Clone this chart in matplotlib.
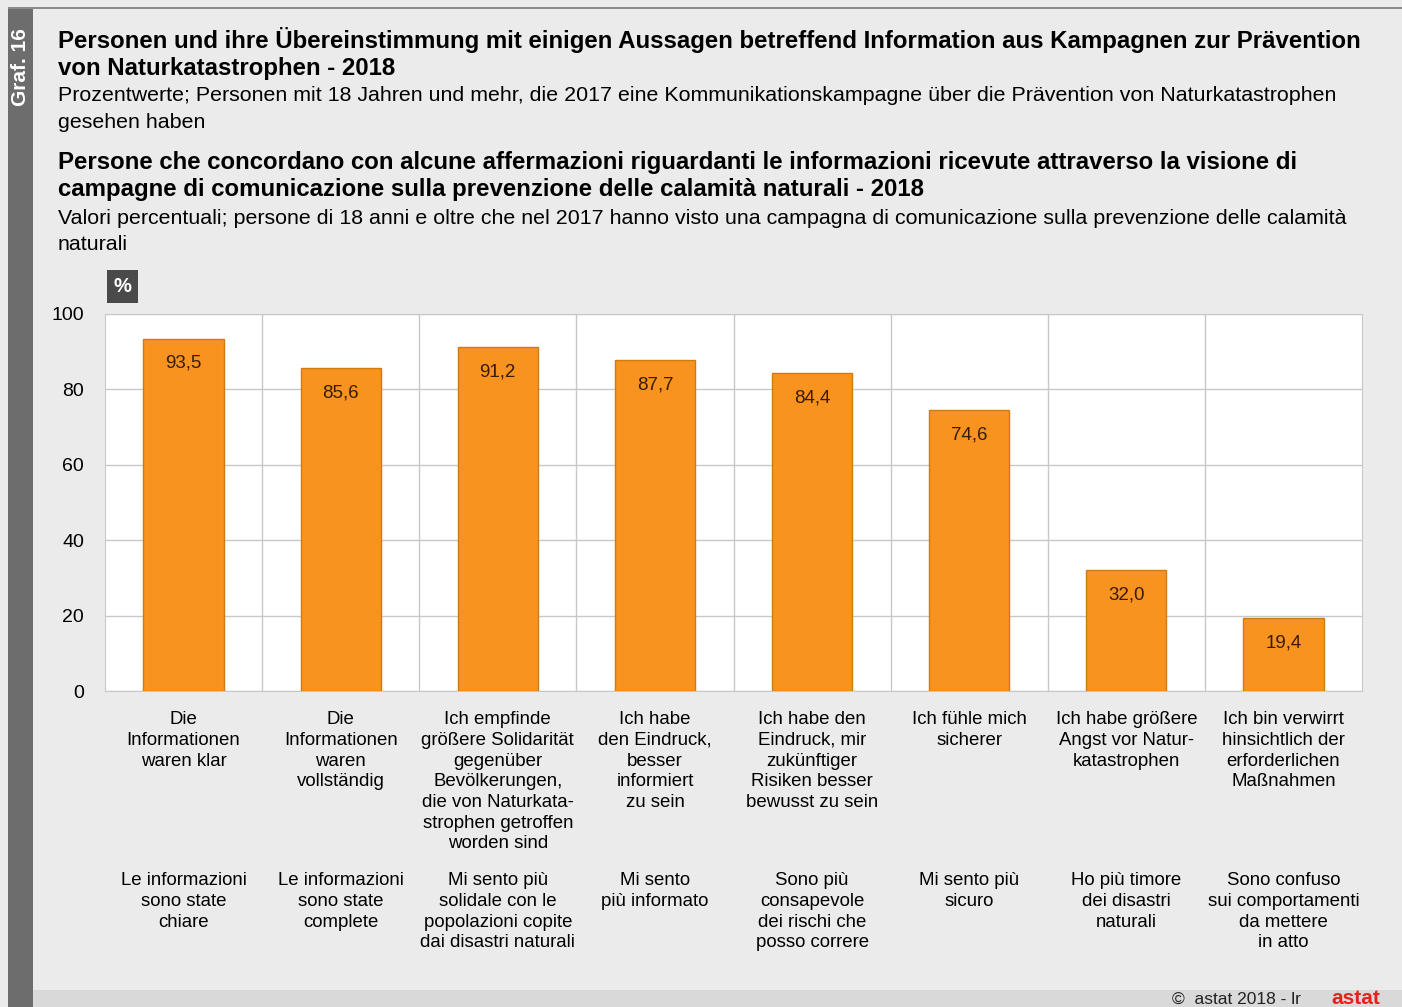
import matplotlib as mpl
mpl.use('Agg')
import matplotlib.pyplot as plt
from matplotlib.patches import Rectangle

plt.rcParams['font.family'] = ['Liberation Sans', 'DejaVu Sans']

# data
labels_de = [
    "Die\nInformationen\nwaren klar",
    "Die\nInformationen\nwaren\nvollständig",
    "Ich empfinde\ngrößere Solidarität\ngegenüber\nBevölkerungen,\ndie von Naturkata-\nstrophen getroffen\nworden sind",
    "Ich habe\nden Eindruck,\nbesser\ninformiert\nzu sein",
    "Ich habe den\nEindruck, mir\nzukünftiger\nRisiken besser\nbewusst zu sein",
    "Ich fühle mich\nsicherer",
    "Ich habe größere\nAngst vor Natur-\nkatastrophen",
    "Ich bin verwirrt\nhinsichtlich der\nerforderlichen\nMaßnahmen",
]
labels_it = [
    "Le informazioni\nsono state\nchiare",
    "Le informazioni\nsono state\ncomplete",
    "Mi sento più\nsolidale con le\npopolazioni copite\ndai disastri naturali",
    "Mi sento\npiù informato",
    "Sono più\nconsapevole\ndei rischi che\nposso correre",
    "Mi sento più\nsicuro",
    "Ho più timore\ndei disastri\nnaturali",
    "Sono confuso\nsui comportamenti\nda mettere\nin atto",
]
values = [93.5, 85.6, 91.2, 87.7, 84.4, 74.6, 32.0, 19.4]
yticks = [0, 20, 40, 60, 80, 100]

W, H = 1402, 1007
fig = plt.figure(figsize=(W / 100, H / 100), dpi=100)
fig.patch.set_facecolor('#ebebeb')


def fy(y):
    return 1 - y / H


# frame decorations
fig.patches.append(Rectangle((8 / W, 0), 25 / W, 1 - 8 / H, transform=fig.transFigure,
                             facecolor='#6d6d6d', edgecolor='none', zorder=0))
fig.patches.append(Rectangle((8 / W, 1 - 9 / H), 1 - 8 / W, 2 / H, transform=fig.transFigure,
                             facecolor='#8a8a8a', edgecolor='none', zorder=0))
fig.patches.append(Rectangle((33 / W, 0), 1 - 33 / W, 17 / H, transform=fig.transFigure,
                             facecolor='#d9d9d9', edgecolor='none', zorder=0))
fig.text(20 / W, fy(67), "Graf. 16", rotation=90, color='white', fontsize=15,
         fontweight='bold', ha='center', va='center')

x0 = 58 / W
fig.text(x0, fy(27), "Personen und ihre Übereinstimmung mit einigen Aussagen betreffend Information aus Kampagnen zur Prävention\nvon Naturkatastrophen - 2018",
         fontsize=17.3, fontweight='bold', va='top', ha='left', linespacing=1.2)
fig.text(x0, fy(86), "Prozentwerte; Personen mit 18 Jahren und mehr, die 2017 eine Kommunikationskampagne über die Prävention von Naturkatastrophen\ngesehen haben",
         fontsize=15.4, va='top', ha='left', linespacing=1.5)
fig.text(x0, fy(151), "Persone che concordano con alcune affermazioni riguardanti le informazioni ricevute attraverso la visione di\ncampagne di comunicazione sulla prevenzione delle calamità naturali - 2018",
         fontsize=17.3, fontweight='bold', va='top', ha='left', linespacing=1.2)
fig.text(x0, fy(209), "Valori percentuali; persone di 18 anni e oltre che nel 2017 hanno visto una campagna di comunicazione sulla prevenzione delle calamità\nnaturali",
         fontsize=15.4, va='top', ha='left', linespacing=1.5)

# "%" box
fig.patches.append(Rectangle((107 / W, fy(303)), 31 / W, 33 / H, transform=fig.transFigure,
                             facecolor='#4a4a4a', edgecolor='none'))
fig.text(122.5 / W, fy(287), "%", color='white', fontsize=14.5, fontweight='bold',
         ha='center', va='center')

ax = fig.add_axes([105 / W, fy(691), (1362 - 105) / W, (691 - 314) / H])
ax.set_facecolor('white')
n = len(values)
xs = list(range(n))
ax.bar(xs, values, width=0.51, color='#f7931e', edgecolor='#d27a12', linewidth=1, zorder=3)
for x, v in zip(xs, values):
    ax.text(x, v - 6.6, f"{v:.1f}".replace('.', ','), ha='center', va='center',
            fontsize=13.5, color='#3a1a00', zorder=4)
ax.set_xlim(-0.5, n - 0.5)
ax.set_ylim(0, 100)
ax.set_yticks(yticks)
ax.set_yticklabels([str(t) for t in yticks], fontsize=14)
ax.tick_params(axis='y', length=0, pad=15)
ax.set_xticks([])
ax.grid(axis='y', color='#c8c8c8', linewidth=1, zorder=0)
for i in range(1, n):
    ax.axvline(i - 0.5, color='#c8c8c8', linewidth=1, zorder=0)
for s in ax.spines.values():
    s.set_color('#c8c8c8')

for x, de, it in zip(xs, labels_de, labels_it):
    ax.text(x, -5.4, de, transform=ax.transData, ha='center', va='top',
            fontsize=13.4, linespacing=1.28, clip_on=False)
    ax.text(x, -48.1, it, transform=ax.transData, ha='center', va='top',
            fontsize=13.4, linespacing=1.28, clip_on=False)

fig.text(1172 / W, fy(999), "©  astat 2018 - lr", fontsize=12.5, ha='left', va='center', color='#222222')
fig.text(1356 / W, fy(999), "astat", fontsize=15, fontweight='bold', ha='center', va='center',
         color='#e2231a')

fig.savefig('out.png', dpi=100, facecolor=fig.get_facecolor())
